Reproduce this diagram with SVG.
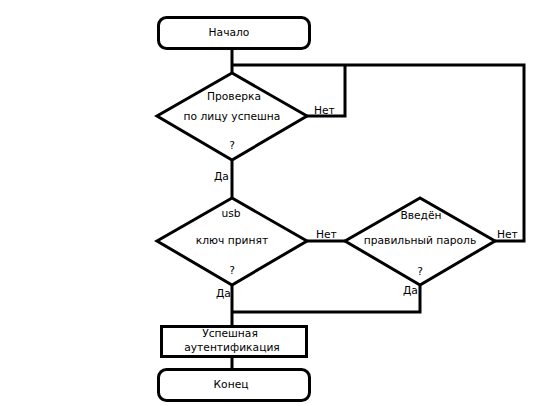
<svg xmlns="http://www.w3.org/2000/svg" width="557" height="406" viewBox="0 0 557 406">
<style>
.s{fill:#fff;stroke:#000;stroke-width:3}
.c{fill:none;stroke:#000;stroke-width:3}
text{font-family:"DejaVu Sans",sans-serif;font-size:10.7px;fill:#000}
.m{text-anchor:middle}
</style>
<rect width="557" height="406" fill="#fff"/>
<g id="connectors">
<path class="c" d="M232,48V73"/>
<path class="c" d="M232,65H524V241H495"/>
<path class="c" d="M307,116H345V65"/>
<path class="c" d="M232,160V198"/>
<path class="c" d="M307,241H345"/>
<path class="c" d="M232,285V326"/>
<path class="c" d="M420,285V312H232"/>
<path class="c" d="M232,357V369"/>
<text x="314" y="114">Нет</text>
<text x="214" y="180">Да</text>
<text x="316" y="238">Нет</text>
<text x="497" y="238">Нет</text>
<text x="216" y="297">Да</text>
<text x="403" y="294">Да</text>
</g>
<g id="start">
<rect class="s" x="158.5" y="17.5" width="151" height="31" rx="8"/>
<text class="m" x="229" y="36">Начало</text>
</g>
<g id="d1">
<path class="s" d="M232,73L157,116L232,160L307,116Z"/>
<text class="m" x="234" y="100">Проверка</text>
<text class="m" x="232" y="120">по лицу успешна</text>
<text class="m" x="232" y="149">?</text>
</g>
<g id="d2">
<path class="s" d="M232,198L157,241L232,285L307,241Z"/>
<text class="m" x="231" y="217">usb</text>
<text class="m" x="232" y="244">ключ принят</text>
<text class="m" x="232" y="274">?</text>
</g>
<g id="d3">
<path class="s" d="M420,198L345,241L420,285L495,241Z"/>
<text class="m" x="421" y="219">Введён</text>
<text class="m" x="420" y="244">правильный пароль</text>
<text class="m" x="420" y="275">?</text>
</g>
<g id="success">
<rect class="s" x="161.5" y="326.5" width="145" height="30"/>
<text class="m" x="230" y="337">Успешная</text>
<text class="m" x="232" y="351">аутентификация</text>
</g>
<g id="end">
<rect class="s" x="158.5" y="369.5" width="151" height="31" rx="8"/>
<text class="m" x="231" y="388">Конец</text>
</g>
</svg>
